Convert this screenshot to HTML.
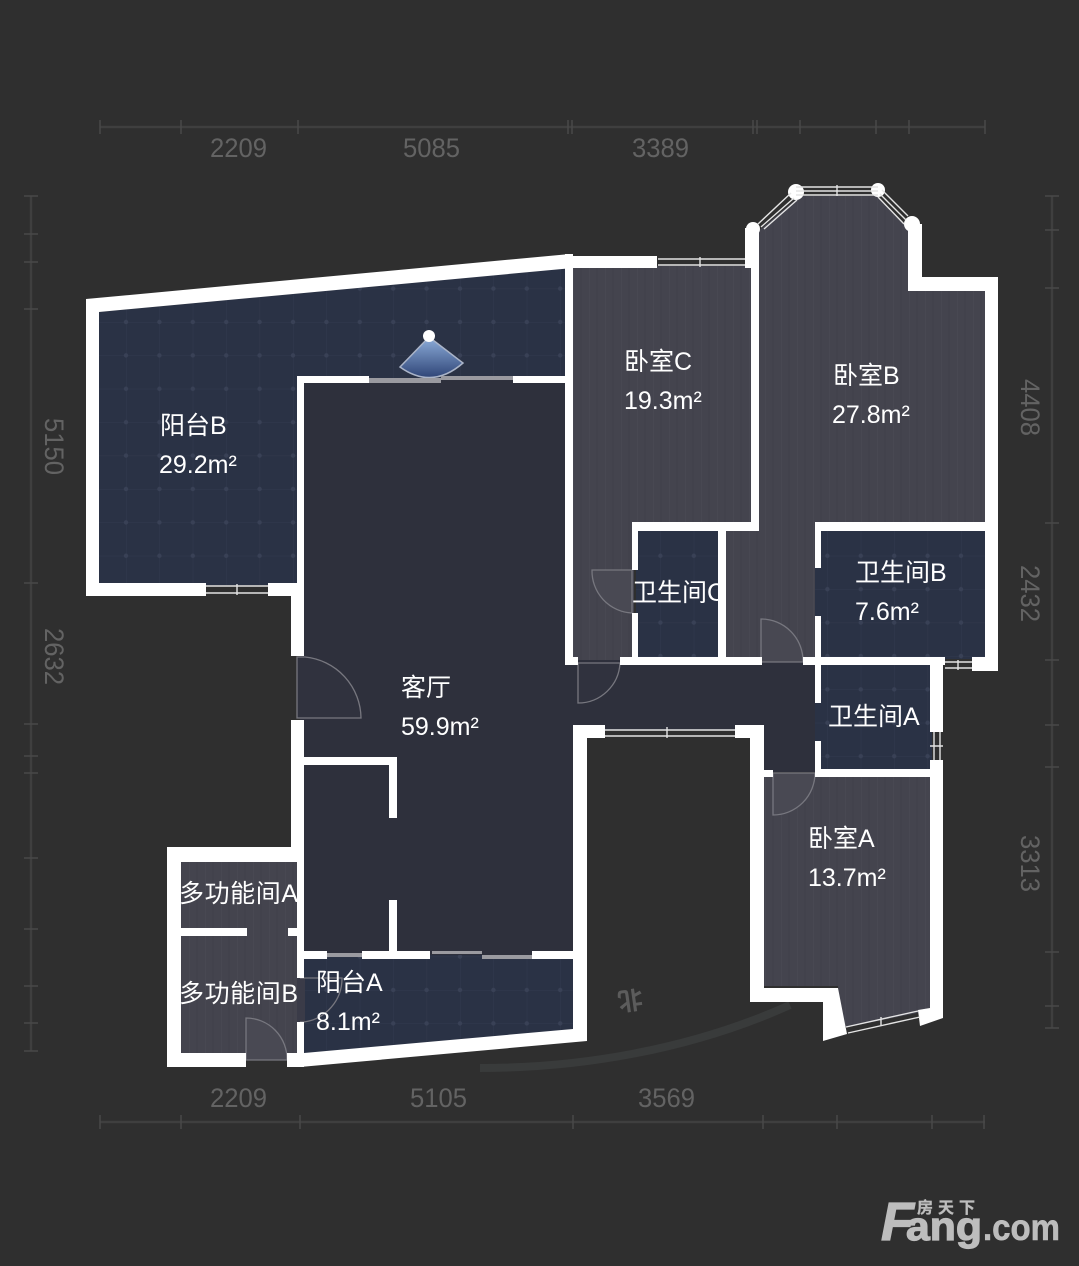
<!DOCTYPE html>
<html>
<head>
<meta charset="utf-8">
<style>
html,body{margin:0;padding:0;background:#2f2f2f;width:1079px;height:1266px;overflow:hidden}
svg{display:block}
.t{font-family:"Liberation Sans","Noto Sans CJK SC",sans-serif;font-size:25px;fill:#fff}
.d{font-family:"Liberation Sans",sans-serif;font-size:27px;fill:#636363}
.win{stroke:#e4e4e4;stroke-width:1.4;fill:none}
.door{stroke:#77777f;stroke-width:1.3}
.dim{stroke:#3f3f3f;stroke-width:2.5;fill:none}
.tick{stroke:#494949;stroke-width:1.5;fill:none}
</style>
</head>
<body>
<svg width="1079" height="1266" viewBox="0 0 1079 1266" xmlns="http://www.w3.org/2000/svg">
<defs>
<pattern id="tile" x="126" y="322" width="33.4" height="33.4" patternUnits="userSpaceOnUse">
<rect width="33.4" height="33.4" fill="#2a3245"/>
<path d="M0 0V33.4M0 0H33.4" stroke="#333a4e" stroke-width="1"/>
<circle cx="0" cy="0" r="2.2" fill="#394156"/><circle cx="33.4" cy="0" r="2.2" fill="#394156"/>
<circle cx="0" cy="33.4" r="2.2" fill="#394156"/><circle cx="33.4" cy="33.4" r="2.2" fill="#394156"/>
</pattern>
<pattern id="wood" x="573" y="0" width="16" height="60" patternUnits="userSpaceOnUse">
<rect width="16" height="60" fill="#44444e"/>
<path d="M0 0V60" stroke="#4c4c56" stroke-width="1"/>
<path d="M8 0V60" stroke="#41414b" stroke-width="1"/>
</pattern>
<linearGradient id="cam" x1="0" y1="0" x2="0" y2="1"><stop offset="0" stop-color="#8eaedb"/><stop offset="1" stop-color="#2f4577"/></linearGradient>
</defs>
<rect width="1079" height="1266" fill="#2f2f2f"/>

<!-- dimension lines -->
<path class="dim" d="M100 127H985"/>
<path class="tick" d="M100 120V134M181 120V134M298 120V134M568 120V134M572 120V134M753 120V134M757 120V134M800 120V134M876 120V134M909 120V134M985 120V134"/>
<path class="dim" d="M100 1122H985"/>
<path class="tick" d="M100 1115V1129M181 1115V1129M300 1115V1129M573 1115V1129M763 1115V1129M837 1115V1129M932 1115V1129M984 1115V1129"/>
<path class="dim" d="M31 196V1051"/>
<path class="tick" d="M24 196H38M24 234H38M24 262H38M24 309H38M24 583H38M24 724H38M24 756H38M24 773H38M24 858H38M24 929H38M24 986H38M24 1023H38M24 1051H38"/>
<path class="dim" d="M1052 196V1028"/>
<path class="tick" d="M1045 196H1059M1045 230H1059M1045 288H1059M1045 523H1059M1045 660H1059M1045 725H1059M1045 767H1059M1045 952H1059M1045 1006H1059M1045 1028H1059"/>
<text class="d" x="210" y="157" textLength="57" lengthAdjust="spacingAndGlyphs">2209</text>
<text class="d" x="403" y="157" textLength="57" lengthAdjust="spacingAndGlyphs">5085</text>
<text class="d" x="632" y="157" textLength="57" lengthAdjust="spacingAndGlyphs">3389</text>
<text class="d" x="210" y="1107" textLength="57" lengthAdjust="spacingAndGlyphs">2209</text>
<text class="d" x="410" y="1107" textLength="57" lengthAdjust="spacingAndGlyphs">5105</text>
<text class="d" x="638" y="1107" textLength="57" lengthAdjust="spacingAndGlyphs">3569</text>
<text class="d" textLength="57" lengthAdjust="spacingAndGlyphs" transform="translate(45,418) rotate(90)">5150</text>
<text class="d" textLength="57" lengthAdjust="spacingAndGlyphs" transform="translate(45,628) rotate(90)">2632</text>
<text class="d" textLength="57" lengthAdjust="spacingAndGlyphs" transform="translate(1021,379) rotate(90)">4408</text>
<text class="d" textLength="57" lengthAdjust="spacingAndGlyphs" transform="translate(1021,565) rotate(90)">2432</text>
<text class="d" textLength="57" lengthAdjust="spacingAndGlyphs" transform="translate(1021,835) rotate(90)">3313</text>

<!-- north arc -->
<path d="M480 1068C580 1068 690 1050 790 1005" fill="none" stroke="#393b3b" stroke-width="8"/>
<text x="630" y="998" text-anchor="middle" dominant-baseline="middle" transform="rotate(172 630 998)" font-family="'Noto Sans CJK SC',sans-serif" font-size="25" font-weight="700" fill="#5c5c5c">北</text>

<!-- floors -->
<polygon fill="url(#tile)" points="99,312 570,268 570,383 300,383 300,585 99,585"/>
<polygon fill="#2e303c" points="300,380 573,380 573,660 820,660 820,772 760,772 760,730 573,730 573,958 300,958"/>
<polygon fill="url(#wood)" points="570,266 753,266 753,525 634,525 634,660 570,660"/>
<polygon fill="url(#wood)" points="757,232 800,196 877,196 910,229 910,291 988,291 988,525 818,525 818,660 724,660 724,528 757,528"/>
<rect x="636" y="529" width="84" height="130" fill="url(#tile)"/>
<rect x="815" y="529" width="172" height="130" fill="url(#tile)"/>
<rect x="815" y="663" width="117" height="108" fill="url(#tile)"/>
<polygon fill="url(#wood)" points="763,775 932,775 932,1010 843,1028 838,986 763,986"/>
<rect x="180" y="860" width="119" height="195" fill="url(#wood)"/>
<polygon fill="url(#tile)" points="302,955 575,955 575,1030 302,1055"/>
<rect x="297" y="978" width="8" height="44" fill="#3a3b48"/>

<!-- camera -->
<path d="M429 337L463 363Q432 390 400 367Z" fill="url(#cam)" stroke="#aab4c8" stroke-width="1.5"/>
<circle cx="429" cy="336" r="6" fill="#fff"/>

<!-- doors -->
<path class="door" fill="#30323e" d="M297 718H361A62 62 0 0 0 305 657H297Z"/>
<path class="door" fill="#494953" d="M632 570H592A42 42 0 0 0 632 613Z"/>
<path class="door" fill="#484852" d="M761 662V619A42 42 0 0 1 803 662Z"/>
<path class="door" fill="#30323e" d="M578 663V703A42 42 0 0 0 620 663Z"/>
<path class="door" fill="#494953" d="M773 773V815A42 42 0 0 0 815 773Z"/>
<path class="door" fill="#494953" d="M246 1060V1018A41 41 0 0 1 287 1060Z"/>
<path class="door" fill="none" d="M300 978H342A44 44 0 0 1 304 1022H300"/>

<!-- walls -->
<g fill="#fff">
<polygon points="86,299 570,254 573,268 99,312"/>
<rect x="86" y="299" width="13" height="297"/>
<rect x="86" y="583" width="120" height="13"/>
<rect x="268" y="583" width="36" height="13"/>
<rect x="297" y="376" width="7" height="210"/>
<rect x="291" y="590" width="13" height="66"/>
<rect x="297" y="376" width="72" height="7"/>
<rect x="513" y="376" width="60" height="7"/>
<rect x="565" y="254" width="8" height="411"/>
<rect x="565" y="256" width="92" height="12"/>
<rect x="745" y="228" width="14" height="40"/>
<rect x="751" y="262" width="8" height="269"/>
<rect x="632" y="522" width="127" height="9"/>
<rect x="632" y="522" width="6" height="48"/>
<rect x="632" y="613" width="6" height="50"/>
<rect x="718" y="526" width="8" height="138"/>
<rect x="566" y="657" width="12" height="8"/>
<rect x="620" y="657" width="142" height="8"/>
<rect x="803" y="657" width="142" height="8"/>
<rect x="815" y="522" width="183" height="9"/>
<rect x="815" y="522" width="6" height="46"/>
<rect x="815" y="616" width="6" height="87"/>
<rect x="815" y="741" width="6" height="36"/>
<rect x="815" y="769" width="128" height="8"/>
<rect x="908" y="224" width="14" height="67"/>
<rect x="908" y="277" width="90" height="14"/>
<rect x="985" y="277" width="13" height="394"/>
<rect x="972" y="657" width="26" height="14"/>
<rect x="930" y="657" width="15" height="8"/>
<rect x="930" y="660" width="13" height="72"/>
<rect x="930" y="760" width="13" height="258"/>
<polygon points="918,1010 930,1008 943,1018 920,1026"/>
<rect x="573" y="725" width="14" height="316"/>
<rect x="573" y="725" width="32" height="13"/>
<rect x="735" y="725" width="28" height="13"/>
<rect x="750" y="725" width="14" height="277"/>
<rect x="760" y="770" width="13" height="7"/>
<rect x="750" y="988" width="88" height="14"/>
<polygon points="823,988 838,988 845,1024 847,1034 823,1041"/>
<rect x="291" y="720" width="13" height="130"/>
<rect x="304" y="757" width="93" height="8"/>
<rect x="389" y="757" width="8" height="61"/>
<rect x="389" y="900" width="8" height="55"/>
<rect x="304" y="951" width="23" height="8"/>
<rect x="362" y="951" width="68" height="8"/>
<rect x="532" y="951" width="41" height="8"/>
<rect x="167" y="847" width="137" height="15"/>
<rect x="167" y="847" width="14" height="220"/>
<rect x="167" y="1053" width="79" height="14"/>
<rect x="287" y="1053" width="17" height="14"/>
<rect x="181" y="928" width="66" height="8"/>
<rect x="288" y="928" width="12" height="8"/>
<rect x="297" y="850" width="7" height="128"/>
<rect x="297" y="1022" width="7" height="45"/>
<polygon points="304,1053 573,1029 587,1041 300,1067"/>
<circle cx="753" cy="229" r="7"/><circle cx="796" cy="192" r="8"/>
<circle cx="878" cy="190" r="7"/><circle cx="912" cy="224" r="8"/>
</g>

<!-- windows -->
<g class="win">
<path d="M206 586H268M206 593H268M237 584V595"/>
<path d="M658 259H745M658 265H745M700 257V267"/>
<path d="M796 187H878M796 191H878M796 195H878M837 185V196"/>
<path d="M758 224L791 193M761 227L794 198M764 229L797 200"/>
<path d="M882 190L908 216M880 194L906 220M878 197L904 224"/>
<path d="M605 730H735M605 736H735M667 727V738"/>
<path d="M945 662H972M945 668H972M958 660V670"/>
<path d="M934 732V760M940 732V760M930 746H943"/>
<path d="M846 1027L918 1011M848 1033L920 1017M881 1017V1026"/>
</g>
<g fill="#9a9aa0">
<rect x="369" y="378" width="72" height="5"/>
<rect x="441" y="376" width="72" height="4"/>
<rect x="327" y="953" width="35" height="4"/>
<rect x="432" y="951" width="50" height="3"/>
<rect x="482" y="955" width="50" height="4"/>
</g>

<!-- labels -->
<g class="t">
<text x="160" y="434">阳台B</text><text x="159" y="473">29.2m²</text>
<text x="624" y="370">卧室C</text><text x="624" y="409">19.3m²</text>
<text x="833" y="384">卧室B</text><text x="832" y="423">27.8m²</text>
<text x="632" y="601">卫生间C</text>
<text x="855" y="581">卫生间B</text><text x="855" y="620">7.6m²</text>
<text x="401" y="696">客厅</text><text x="401" y="735">59.9m²</text>
<text x="828" y="725">卫生间A</text>
<text x="808" y="847">卧室A</text><text x="808" y="886">13.7m²</text>
<text x="179" y="902" textLength="119">多功能间A</text>
<text x="179" y="1002" textLength="119">多功能间B</text>
<text x="316" y="991">阳台A</text><text x="316" y="1030">8.1m²</text>
</g>

<!-- logo -->
<g fill="#bdbdbd" stroke="#bdbdbd" font-family="'Liberation Sans','Noto Sans CJK SC',sans-serif" font-weight="700">
<text x="881" y="1240" font-size="54" font-style="italic" stroke-width="1.2">F</text>
<text x="906" y="1240" font-size="40" stroke-width="1.2" textLength="76" lengthAdjust="spacingAndGlyphs">ang</text>
<text x="983" y="1240" font-size="37" stroke-width="0.6" textLength="77" lengthAdjust="spacingAndGlyphs">.com</text>
<text x="917" y="1213" font-size="16" stroke-width="0.3" textLength="58">房天下</text>
</g>
</svg>
</body>
</html>
